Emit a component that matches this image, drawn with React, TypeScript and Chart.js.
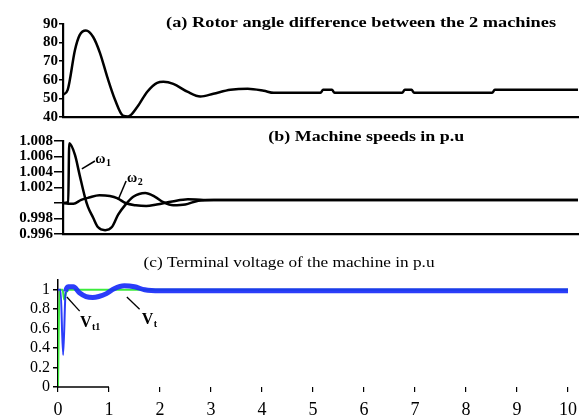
import { useEffect, useRef } from 'react';
import { Chart, registerables } from 'chart.js';

Chart.register(...registerables);

const FONT = '"Liberation Serif", "Times New Roman", serif';
Chart.defaults.font.family = FONT;
Chart.defaults.color = '#000';

// (a) rotor angle difference (degrees) vs time (s)
const rotorTime = [0.1, 0.19, 0.33, 0.42, 0.54, 0.68, 0.81, 0.95, 1.1, 1.25, 1.35, 1.53, 1.72, 1.91, 2.03, 2.22, 2.49, 2.74, 2.99, 3.32, 3.65, 3.96, 4.15, 5.05, 5.1, 5.27, 5.32, 6.62, 6.67, 6.8, 6.85, 8.35, 8.4, 10.0];
const rotorAngle = [52, 54.6, 76, 84, 86.5, 83, 74.5, 61.6, 49.3, 40.8, 40.3, 45.5, 53.6, 58.4, 58.9, 57.8, 53.6, 51, 52.5, 54.6, 55.2, 54.1, 53, 53, 54.6, 54.6, 53, 53, 54.6, 54.6, 53, 53, 54.6, 54.6];

// (b) machine speeds (p.u.)
const speedTime1 = [0.1, 0.2, 0.22, 0.33, 0.42, 0.52, 0.58, 0.68, 0.77, 0.91, 1.04, 1.16, 1.29, 1.45, 1.68, 1.87, 2.03, 2.22, 2.45, 2.7, 3.0, 10.0];
const speed1 = [1.0, 1.0001, 1.0077, 1.0062, 1.0036, 1.0008, 0.9995, 0.9981, 0.9969, 0.9965, 0.9969, 0.9985, 0.9997, 1.0008, 1.0013, 1.0008, 1.0001, 0.9997, 0.9998, 1.0003, 1.0004, 1.0004];
const speedTime2 = [0.1, 0.2, 0.3, 0.45, 0.6, 0.8, 1.0, 1.15, 1.3, 1.5, 1.7, 1.9, 2.2, 2.5, 2.8, 3.2, 10.0];
const speed2 = [1.0, 0.9999, 0.9999, 1.0004, 1.0007, 1.001, 1.0009, 1.0006, 1.0, 0.9997, 0.9996, 0.9998, 1.0002, 1.0005, 1.0004, 1.0004, 1.0004];

// (c) terminal voltages (p.u.)
const voltTime1 = [0, 0.05, 0.1, 0.15, 0.2, 0.3, 0.42, 0.55, 0.68, 0.8, 0.95, 1.1, 1.3, 1.5, 1.7, 2.0, 10.0];
const volt1 = [1.0, 1.0, 0.33, 0.98, 1.03, 1.03, 0.97, 0.93, 0.92, 0.93, 0.96, 1.01, 1.04, 1.03, 1.0, 0.99, 0.99];
const voltTime = [0, 0.03, 0.09, 0.12, 0.16, 0.22, 0.5, 1.0, 10.0];
const volt = [0, 1.0, 1.0, 0.9, 0.97, 1.0, 1.0, 1.0, 1.0];

const angleTicks = [40, 50, 60, 70, 80, 90];
const speedTicks = [0.996, 0.998, 1.0, 1.002, 1.004, 1.006, 1.008];
const voltTicks = [0, 0.2, 0.4, 0.6, 0.8, 1];
const timeTicks = [0, 1, 2, 3, 4, 5, 6, 7, 8, 9, 10];

const titleA = '(a) Rotor angle difference between the 2 machines';
const titleB = '(b) Machine speeds in p.u';
const titleC = '(c) Terminal voltage of the machine in p.u';

const pts = (xs: number[], ys: number[]) => xs.map((x, i) => ({ x, y: ys[i] }));

type Item = {
  text?: string;
  sub?: string;
  at?: [number, number];
  font?: string;
  subFont?: string;
  width?: number;
  align?: 'left' | 'center';
  line?: [number, number, number, number];
  lineWidth?: number;
};

const makeAnnotate = (items: Item[]) => ({
  id: 'annotate',
  afterDatasetsDraw(chart: any) {
    const { ctx } = chart;
    const xs = chart.scales.x;
    const ys = chart.scales.y;
    for (const it of items) {
      ctx.save();
      ctx.strokeStyle = '#000';
      ctx.fillStyle = '#000';
      if (it.line) {
        ctx.lineWidth = it.lineWidth || 1.2;
        ctx.beginPath();
        ctx.moveTo(xs.getPixelForValue(it.line[0]), ys.getPixelForValue(it.line[1]));
        ctx.lineTo(xs.getPixelForValue(it.line[2]), ys.getPixelForValue(it.line[3]));
        ctx.stroke();
      }
      if (it.text && it.at) {
        const px = xs.getPixelForValue(it.at[0]);
        const py = ys.getPixelForValue(it.at[1]);
        ctx.font = it.font;
        ctx.textBaseline = 'middle';
        const w = ctx.measureText(it.text).width;
        const sx = it.width ? it.width / w : 1;
        ctx.translate(px, py);
        ctx.scale(sx, 1);
        ctx.textAlign = it.align || 'left';
        ctx.fillText(it.text, 0, 0);
        if (it.sub) {
          ctx.font = it.subFont;
          ctx.textAlign = 'left';
          ctx.fillText(it.sub, (it.align === 'center' ? w / 2 : w) + 0.5, 4);
        }
      }
      ctx.restore();
    }
  },
});

const yTickGrid = (len: number) => ({
  display: true,
  drawOnChartArea: false,
  drawTicks: true,
  tickLength: len,
  color: '#000',
  lineWidth: 1.5,
});

const common = (padding: any) => ({
  animation: false as const,
  responsive: false,
  events: [] as any[],
  layout: { padding },
  plugins: { legend: { display: false }, tooltip: { enabled: false } },
});

const cfgA = (): any => ({
  type: 'line',
  data: {
    datasets: [
      {
        data: pts(rotorTime, rotorAngle),
        borderColor: '#000',
        borderWidth: 2.5,
        pointRadius: 0,
        cubicInterpolationMode: 'monotone',
      },
    ],
  },
  options: {
    ...common({ left: 0, top: 24, right: 6, bottom: 300 }),
    scales: {
      x: {
        type: 'linear',
        min: 0.1,
        max: 10,
        ticks: { display: false },
        grid: { display: false },
        border: { display: true, color: '#000', width: 2.2 },
        afterFit: (s: any) => { s.height = 0; },
      },
      y: {
        min: 40,
        max: 90,
        afterBuildTicks: (s: any) => { s.ticks = angleTicks.map((v) => ({ value: v })); },
        ticks: { font: { size: 15, weight: 'bold' }, color: '#000', padding: 1, autoSkip: false },
        grid: yTickGrid(4),
        border: { display: true, color: '#000', width: 2.2 },
        afterFit: (s: any) => { s.width = 63; },
      },
    },
  },
  plugins: [
    makeAnnotate([
      { text: titleA, at: [5.83, 90.54], font: `bold 14px ${FONT}`, width: 390, align: 'center' },
    ]),
  ],
});

const cfgB = (): any => ({
  type: 'line',
  data: {
    datasets: [
      {
        data: pts(speedTime1, speed1),
        borderColor: '#000',
        borderWidth: 2.5,
        pointRadius: 0,
        cubicInterpolationMode: 'monotone',
      },
      {
        data: pts(speedTime2, speed2),
        borderColor: '#000',
        borderWidth: 2.5,
        pointRadius: 0,
        cubicInterpolationMode: 'monotone',
      },
    ],
  },
  options: {
    ...common({ left: 0, top: 141, right: 6, bottom: 183 }),
    scales: {
      x: {
        type: 'linear',
        min: 0.1,
        max: 10,
        ticks: { display: false },
        grid: { display: false },
        border: { display: true, color: '#000', width: 2.2 },
        afterFit: (s: any) => { s.height = 0; },
      },
      y: {
        min: 0.996,
        max: 1.008,
        afterBuildTicks: (s: any) => { s.ticks = speedTicks.map((v) => ({ value: v })); },
        ticks: {
          font: { size: 15, weight: 'bold' },
          color: '#000',
          padding: 1,
          autoSkip: false,
          callback: (v: any) => (Math.abs(Number(v) - 1) < 1e-9 ? '' : Number(v).toFixed(3)),
        },
        grid: yTickGrid(9),
        border: { display: true, color: '#000', width: 2.2 },
        afterFit: (s: any) => { s.width = 63; },
      },
    },
  },
  plugins: [
    makeAnnotate([
      { text: titleB, at: [5.93, 1.00852], font: `bold 14px ${FONT}`, width: 196, align: 'center' },
      { line: [0.463, 1.00439, 0.714, 1.00542], lineWidth: 1.5 },
      { text: 'ω', sub: '1', at: [0.72, 1.00568], font: `bold 14px ${FONT}`, subFont: `bold 10px ${FONT}` },
      { line: [1.158, 1.00039, 1.313, 1.00284], lineWidth: 1.5 },
      { text: 'ω', sub: '2', at: [1.33, 1.00323], font: `bold 14px ${FONT}`, subFont: `bold 10px ${FONT}` },
    ]),
  ],
});

const cfgC = (): any => ({
  type: 'line',
  data: {
    datasets: [
      {
        label: 'Vt1',
        data: pts(voltTime1, volt1),
        borderColor: 'rgba(25,45,250,0.92)',
        borderWidth: 5,
        pointRadius: 0,
        cubicInterpolationMode: 'monotone',
        segment: { borderWidth: (c: any) => (c.p1.parsed.x <= 0.16 ? 2 : 5) },
      },
      {
        label: 'Vt',
        data: pts(voltTime, volt),
        borderColor: 'rgb(60,235,60)',
        borderWidth: 2,
        pointRadius: 0,
        cubicInterpolationMode: 'monotone',
      },
    ],
  },
  options: {
    ...common({ left: 0, top: 280, right: 8, bottom: 0 }),
    scales: {
      x: {
        type: 'linear',
        min: 0,
        max: 10,
        afterBuildTicks: (s: any) => { s.ticks = timeTicks.map((v) => ({ value: v })); },
        ticks: { font: { size: 18 }, color: '#000', padding: 7, maxRotation: 0, autoSkip: false },
        grid: { display: true, drawOnChartArea: false, drawTicks: true, tickLength: 5, color: '#000', lineWidth: 1.2 },
        border: { display: false },
        afterFit: (s: any) => { s.height = 30; },
      },
      y: {
        min: 0,
        max: 1.1,
        afterBuildTicks: (s: any) => { s.ticks = voltTicks.map((v) => ({ value: v })); },
        ticks: { font: { size: 16 }, color: '#000', padding: 3, autoSkip: false, callback: (v: any) => String(v) },
        grid: yTickGrid(5),
        border: { display: true, color: '#000', width: 1.5 },
        afterFit: (s: any) => { s.width = 58; },
      },
    },
  },
  plugins: [
    makeAnnotate([
      { line: [0, 0, 1, 0], lineWidth: 1.5 },
      { text: titleC, at: [4.53, 1.27], font: `15px ${FONT}`, width: 291, align: 'center' },
      { line: [0.174, 0.925, 0.425, 0.78], lineWidth: 1.3 },
      { text: 'V', sub: 't1', at: [0.43, 0.658], font: `bold 16px ${FONT}`, subFont: `bold 10px ${FONT}` },
      { line: [1.35, 0.925, 1.6, 0.8], lineWidth: 1.3 },
      { text: 'V', sub: 't', at: [1.64, 0.689], font: `bold 16px ${FONT}`, subFont: `bold 10px ${FONT}` },
    ]),
  ],
});

export default function App() {
  const refA = useRef<HTMLCanvasElement>(null);
  const refB = useRef<HTMLCanvasElement>(null);
  const refC = useRef<HTMLCanvasElement>(null);

  useEffect(() => {
    const charts = [
      new Chart(refA.current!, cfgA()),
      new Chart(refB.current!, cfgB()),
      new Chart(refC.current!, cfgC()),
    ];
    return () => charts.forEach((ch) => ch.destroy());
  }, []);

  const layer: any = { position: 'absolute', left: 0, top: 0, width: 584, height: 417 };
  return (
    <div style={{ position: 'absolute', left: 0, top: 0, width: 584, height: 417, background: '#fff', overflow: 'hidden' }}>
      <canvas ref={refA} width={584} height={417} style={layer} />
      <canvas ref={refB} width={584} height={417} style={layer} />
      <canvas ref={refC} width={584} height={417} style={layer} />
    </div>
  );
}
